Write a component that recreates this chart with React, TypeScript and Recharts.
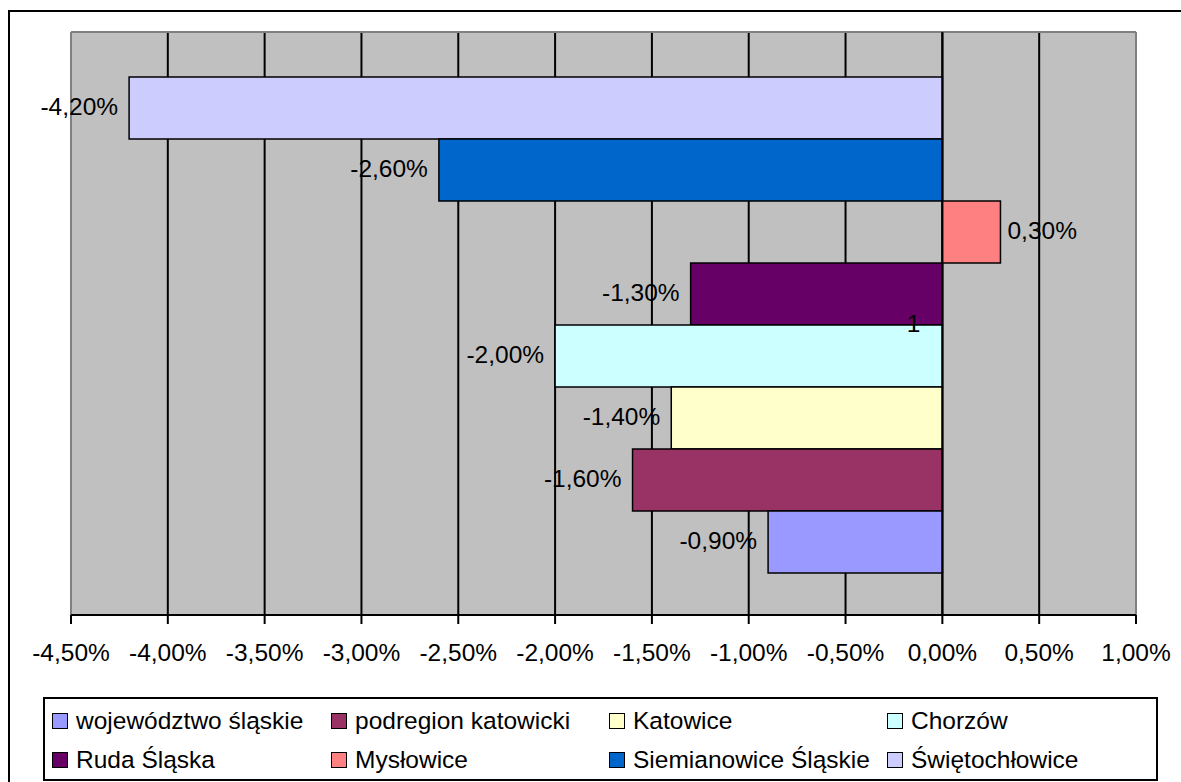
import { BarChart, Bar, XAxis, YAxis, CartesianGrid, ReferenceLine, LabelList } from 'recharts';

const categories = ['1'];
const seriesNames = [
  'województwo śląskie',
  'podregion katowicki',
  'Katowice',
  'Chorzów',
  'Ruda Śląska',
  'Mysłowice',
  'Siemianowice Śląskie',
  'Świętochłowice',
];
const seriesValues = [-0.9, -1.6, -1.4, -2.0, -1.3, 0.3, -2.6, -4.2];
const seriesColors = ['#9999FF', '#993366', '#FFFFCC', '#CCFFFF', '#660066', '#FF8080', '#0066CC', '#CCCCFF'];
const xTicks = [-4.5, -4, -3.5, -3, -2.5, -2, -1.5, -1, -0.5, 0, 0.5, 1];

const FONT = '"Liberation Sans", Arial, sans-serif';
const FS = 24.5;
const fmt = (v: number) => `${v.toFixed(2).replace('.', ',')}%`;

const data = categories.map((name) => {
  const row: Record<string, string | number> = { name };
  seriesNames.forEach((_, i) => {
    row[`s${i}`] = seriesValues[i];
  });
  return row;
});

// Excel puts the label outside the bar end, on whichever side the bar grows
const BarValueLabel = (props: any) => {
  const { x, y, width, height, value } = props;
  const left = Math.min(x, x + width);
  const right = Math.max(x, x + width);
  const neg = value < 0;
  return (
    <text
      x={neg ? left - 11 : right + 7}
      y={y + height / 2 - 1}
      textAnchor={neg ? 'end' : 'start'}
      dominantBaseline="central"
      fontSize={FS}
      fontFamily={FONT}
      fill="#000"
    >
      {fmt(value)}
    </text>
  );
};

export default function App() {
  // first series sits at the bottom of the band, like in Excel
  const order = seriesNames.map((_, i) => i).reverse();

  return (
    <div style={{ position: 'relative', width: 1181, height: 782, overflow: 'hidden', fontFamily: FONT, background: '#fff' }}>
      <style>{'body{margin:0;overflow:hidden}'}</style>
      <div style={{ position: 'absolute', left: 8, top: 10, width: 1200, height: 800, border: '2px solid #000' }} />
      <div style={{ position: 'absolute', left: 0, top: 0 }}>
        <BarChart
          width={1181}
          height={690}
          data={data}
          layout="vertical"
          margin={{ top: 32, right: 45, bottom: 15, left: 71 }}
          barCategoryGap="7.7%"
          barGap={0}
        >
          <CartesianGrid horizontal={false} fill="#C0C0C0" fillOpacity={1} stroke="#000" strokeWidth={2} />
          <CartesianGrid
            vertical={false}
            horizontalCoordinatesGenerator={({ offset }: any) => [offset.top]}
            stroke="#808080"
            strokeWidth={2}
          />
          <XAxis
            type="number"
            domain={[-4.5, 1]}
            ticks={xTicks}
            interval={0}
            height={60}
            tickFormatter={fmt}
            tick={{ fontSize: FS, fill: '#000', fontFamily: FONT }}
            tickSize={9}
            tickMargin={20}
            stroke="#000"
            strokeWidth={2}
          />
          <YAxis type="category" dataKey="name" hide />
          {order.map((i) => (
            <Bar
              key={seriesNames[i]}
              dataKey={`s${i}`}
              name={seriesNames[i]}
              fill={seriesColors[i]}
              stroke="#000"
              strokeWidth={1.5}
              isAnimationActive={false}
            >
              <LabelList dataKey={`s${i}`} content={BarValueLabel} />
            </Bar>
          ))}
          <ReferenceLine x={-4.5} stroke="#808080" strokeWidth={2} />
          <ReferenceLine x={1} stroke="#808080" strokeWidth={2} />
          <ReferenceLine
            x={0}
            stroke="#000"
            strokeWidth={2}
            label={{ value: categories[0], position: 'left', offset: 22, fontSize: FS, fill: '#000', fontFamily: FONT }}
          />
        </BarChart>
      </div>
      <div
        style={{
          position: 'absolute',
          left: 43,
          top: 697,
          width: 1115,
          height: 84,
          boxSizing: 'border-box',
          border: '2px solid #000',
          paddingLeft: 7,
          paddingTop: 2,
          display: 'grid',
          gridTemplateColumns: '279px 278px 278px 1fr',
          gridAutoRows: '39px',
          fontSize: FS,
          color: '#000',
        }}
      >
        {seriesNames.map((n, i) => (
          <div key={n} style={{ display: 'flex', alignItems: 'center', whiteSpace: 'nowrap' }}>
            <span
              style={{
                display: 'inline-block',
                width: 16,
                height: 16,
                boxSizing: 'border-box',
                border: '1px solid #000',
                background: seriesColors[i],
                marginRight: 8,
              }}
            />
            {n}
          </div>
        ))}
      </div>
    </div>
  );
}
